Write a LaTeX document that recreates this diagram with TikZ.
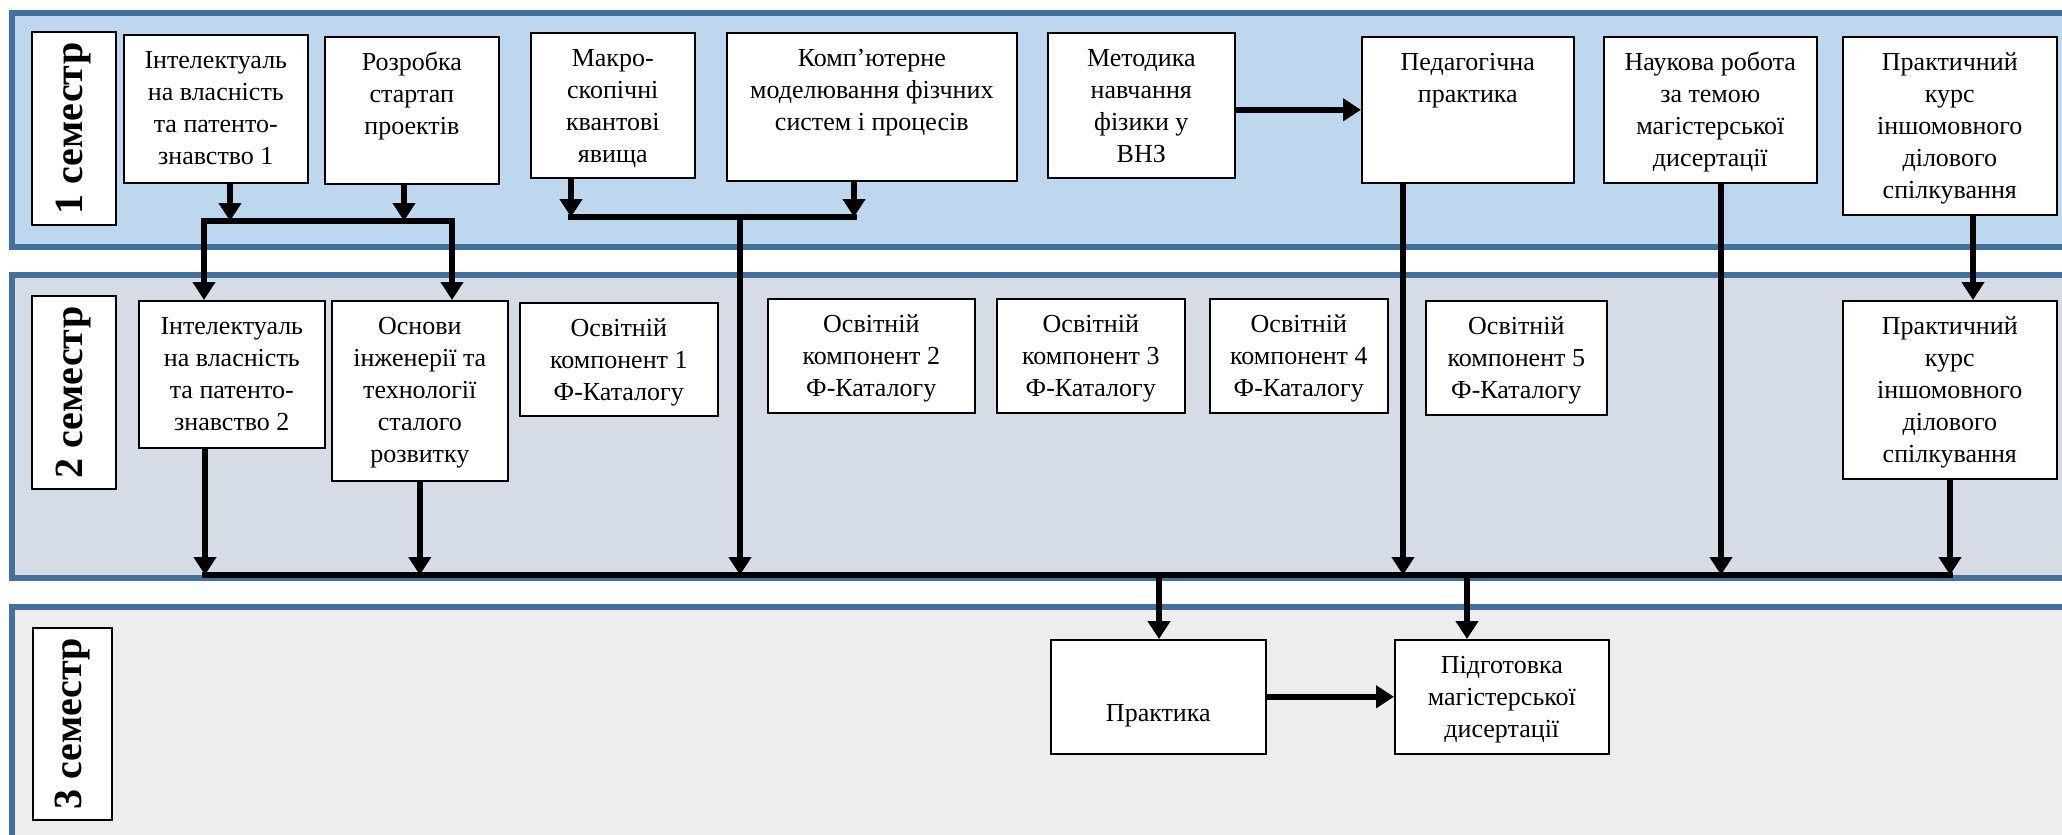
\documentclass[tikz,border=0pt]{standalone}
\usepackage{fontspec}
\setmainfont{Liberation Serif}
\usetikzlibrary{arrows.meta}
\definecolor{bandline}{HTML}{41719C}
\definecolor{semone}{HTML}{BDD7EE}
\definecolor{semtwo}{HTML}{D6DCE5}
\definecolor{semthree}{HTML}{EDEDED}
% box text: width, height (px), lines
\newcommand{\bx}[3]{\parbox[c][\dimexpr #2pt/2\relax][t]{\dimexpr #1pt/2\relax}{\centering\rule{0pt}{17pt}#3\par}}
\tikzset{
  box/.style={draw,fill=white,line width=.8pt,inner sep=0pt,anchor=north west},
  sem/.style={draw,fill=white,line width=.8pt,rotate=90,inner sep=0pt,font=\bfseries\fontsize{20pt}{24pt}\selectfont},
  band/.style={draw=bandline,line width=2.75pt},
  bus/.style={line width=3pt,line cap=rect},
  flow/.style={->,line width=3pt}
}
\begin{document}
\begin{tikzpicture}[x=.5pt,y=-.5pt,>={Triangle[length=9pt,width=11pt]},font=\fontsize{13pt}{16pt}\selectfont]
\useasboundingbox (0,0) rectangle (2062,835);
\clip (0,0) rectangle (2062,835);
% bands
\draw[band,fill=semone] (12,13) rectangle (2090,247);
\draw[band,fill=semtwo] (12,275) rectangle (2090,578);
\draw[band,fill=semthree] (12,607) rectangle (2090,870);

% semester labels
\node[sem,minimum width=96.5pt,minimum height=42pt] (s1) at (74,128.5) {1 семестр};
\node[sem,minimum width=96.5pt,minimum height=42pt] (s2) at (74,392.5) {2 семестр};
\node[sem,minimum width=96pt,minimum height=39.5pt] (s3) at (72.5,724) {3 семестр};

% 1 semester
\node[box] (a1) at (123,34) {\bx{184}{148}{Інтелектуаль\\на власність\\та патенто-\\знавство 1}};
\node[box] (a2) at (324,36) {\bx{174}{147}{Розробка\\стартап\\проектів}};
\node[box] (a3) at (530,32) {\bx{164}{145}{Макро-\\скопічні\\квантові\\явища}};
\node[box] (a4) at (726,32) {\bx{290}{148}{Комп’ютерне\\моделювання фізчних\\систем і процесів}};
\node[box] (a5) at (1047,32) {\bx{187}{145}{Методика\\навчання\\фізики у\\ВНЗ}};
\node[box] (a6) at (1361,36) {\bx{212}{146}{Педагогічна\\практика}};
\node[box] (a7) at (1603,36) {\bx{213}{146}{Наукова робота\\за темою\\магістерської\\дисертації}};
\node[box] (a8) at (1842,36) {\bx{214}{178}{Практичний\\курс\\іншомовного\\ділового\\спілкування}};

% 2 semester
\node[box] (b1) at (138,300) {\bx{186}{147}{Інтелектуаль\\на власність\\та патенто-\\знавство 2}};
\node[box] (b2) at (331,300) {\bx{176}{180}{Основи\\інженерії та\\технології\\сталого\\розвитку}};
\node[box] (b3) at (519,302) {\bx{198}{113}{Освітній\\компонент 1\\Ф-Каталогу}};
\node[box] (b4) at (767,298) {\bx{207}{114}{Освітній\\компонент 2\\Ф-Каталогу}};
\node[box] (b5) at (996,298) {\bx{188}{114}{Освітній\\компонент 3\\Ф-Каталогу}};
\node[box] (b6) at (1209,298) {\bx{178}{114}{Освітній\\компонент 4\\Ф-Каталогу}};
\node[box] (b7) at (1425,300) {\bx{181}{114}{Освітній\\компонент 5\\Ф-Каталогу}};
\node[box] (b8) at (1842,300) {\bx{214}{178}{Практичний\\курс\\іншомовного\\ділового\\спілкування}};

% 3 semester
\node[box] (c1) at (1050,639) {\bx{215}{114}{\\[8pt]Практика}};
\node[box] (c2) at (1394,639) {\bx{214}{114}{Підготовка\\магістерської\\дисертації}};

% joints
\coordinate (j1) at (230,221);
\coordinate (j2) at (404,221);
\coordinate (k1) at (204,221);
\coordinate (k2) at (452,221);
\coordinate (j3) at (571,217);
\coordinate (j4) at (854,217);
\coordinate (j5) at (740,217);
\coordinate (q8) at (1973,214);
\coordinate (p1) at (205,575);
\coordinate (p6) at (1403,575);
\coordinate (p7) at (1721,575);
\coordinate (p8) at (1950,575);
\coordinate (p9) at (1159,575);
\coordinate (p10) at (1467,575);

\draw[flow] (a1.south -| j1) -- (j1);
\draw[flow] (a2.south -| j2) -- (j2);
\draw[bus] (k1) -- (k2);
\draw[flow] (k1) -- (k1 |- b1.north);
\draw[flow] (k2) -- (k2 |- b2.north);

\draw[flow] (a3.south -| j3) -- (j3);
\draw[flow] (a4.south -| j4) -- (j4);
\draw[bus] (j3) -- (j4);
\draw[flow] (j5) -- (j5 |- p1);

\draw[flow] (a5.east |- a6.west) -- (a6.west);
\draw[flow] (a6.south -| p6) -- (p6);
\draw[flow] (a7.south -| p7) -- (p7);
\draw[flow] (a8.south -| q8) -- (q8 |- b8.north);

\draw[flow] (b1.south -| p1) -- (p1);
\draw[flow] (b2.south) -- (b2.south |- p1);
\draw[flow] (b8.south -| p8) -- (p8);
\draw[bus] (p1) -- (p8);

\draw[flow] (p9) -- (p9 |- c1.north);
\draw[flow] (p10) -- (p10 |- c2.north);
\draw[flow] (c1.east) -- (c2.west);
\end{tikzpicture}
\end{document}
